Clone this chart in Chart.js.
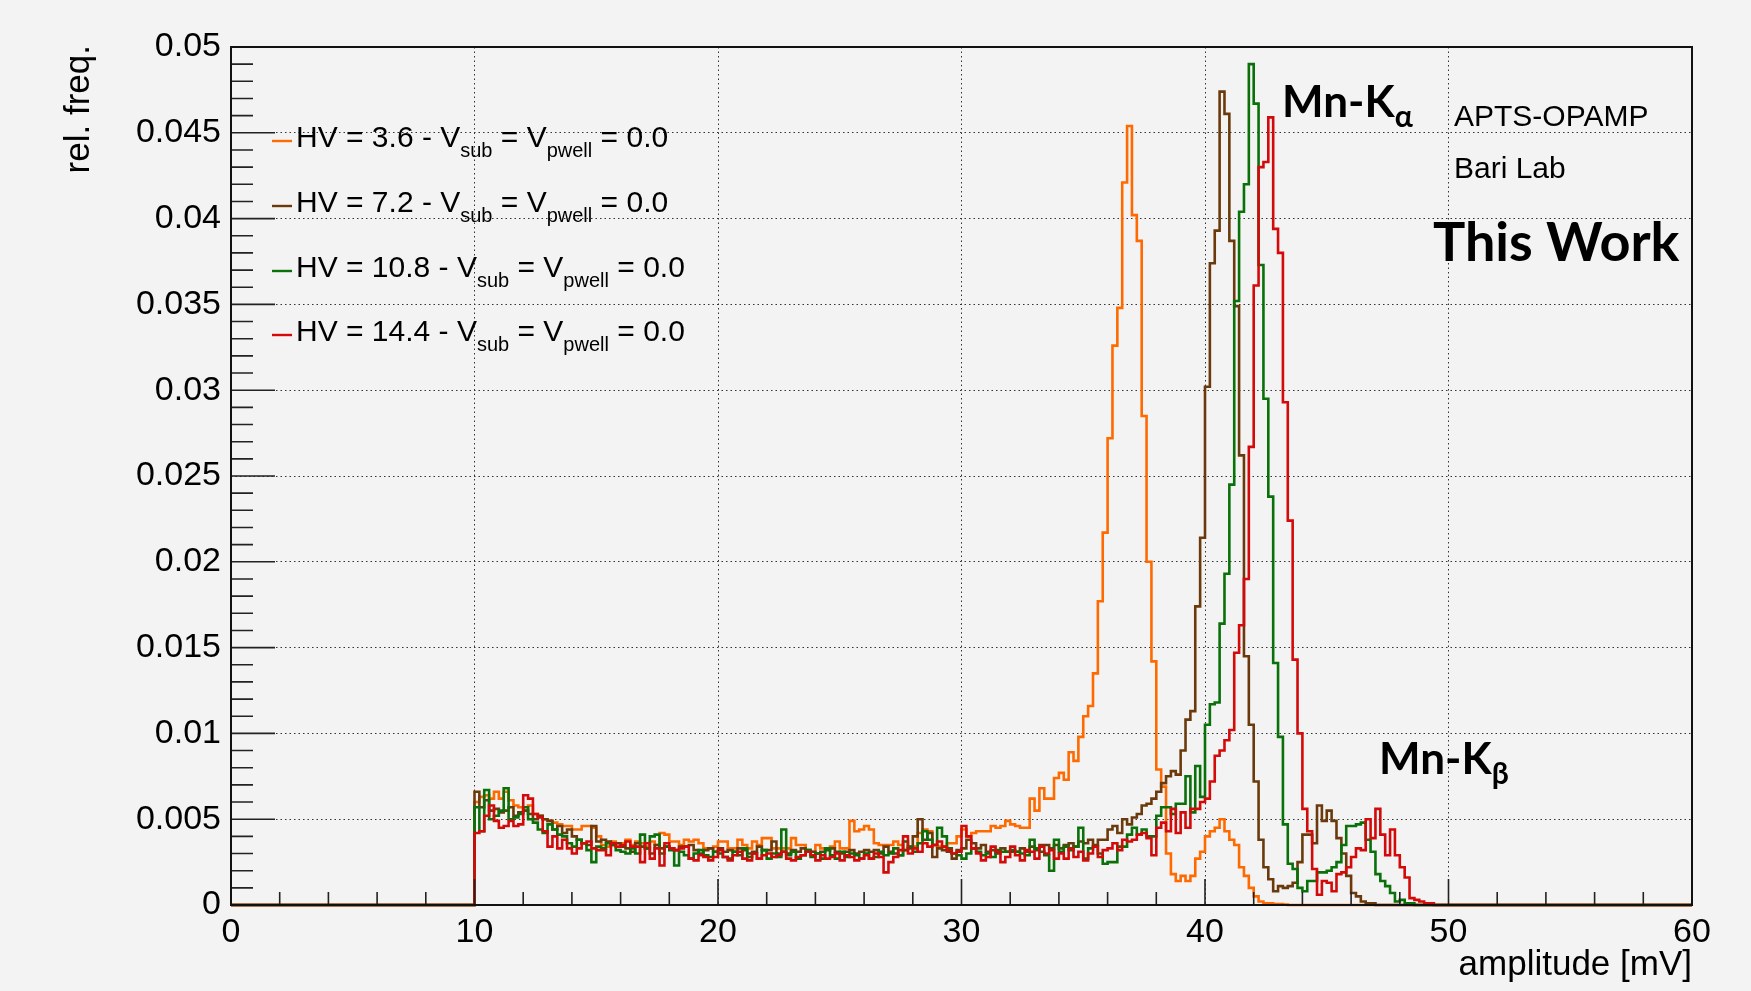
<!DOCTYPE html>
<html>
<head>
<meta charset="utf-8">
<script src="https://cdn.jsdelivr.net/npm/chart.js@4.4.1/dist/chart.umd.min.js"></script>
<style>
  html, body { margin: 0; padding: 0; background: #f3f3f3; }
</style>
</head>
<body>
<canvas id="c" width="1751" height="991"></canvas>
<script>
// histogram bins: 0.2 mV wide, first stored bin starts at 10.0 mV (below that everything is 0)
const binLow = 10.0;
const binWidth = 0.2;

// rel. freq. per bin, in units of 1e-4, one row = 2 mV (10 bins)
const orange = [
  60, 63, 64, 62, 66, 62, 66, 61, 58, 57,   // 10
  55, 58, 53, 52, 50, 49, 48, 47, 46, 46,   // 12
  44, 44, 46, 46, 45, 40, 35, 34, 37, 36,   // 14
  36, 38, 35, 37, 36, 34, 37, 35, 42, 41,   // 16
  37, 37, 35, 38, 37, 38, 36, 33, 33, 34,   // 18
  37, 37, 33, 33, 38, 35, 33, 37, 35, 39,   // 20
  39, 33, 33, 33, 33, 39, 35, 35, 31, 31,   // 22
  35, 33, 33, 34, 37, 33, 33, 49, 43, 44,   // 24
  46, 44, 36, 35, 35, 35, 37, 35, 32, 34,   // 26
  34, 42, 44, 43, 35, 34, 34, 36, 36, 40,   // 28
  44, 40, 42, 43, 43, 43, 46, 45, 46, 49,   // 30
  47, 46, 45, 45, 62, 55, 68, 62, 62, 74,   // 32
  77, 73, 89, 84, 98, 110, 116, 135, 177, 217,   // 34
  272, 326, 348, 421, 454, 402, 387, 285, 200, 142,   // 36
  79, 69, 30, 18, 14, 17, 14, 17, 27, 31,   // 38
  40, 43, 45, 50, 43, 38, 35, 22, 17, 10,   // 40
  5, 2, 1, 1, 0.5, 0.5, 0.3, 0, 0, 0,   // 42
  0, 0, 0, 0, 0, 0, 0, 0, 0, 0,   // 44
  0, 0, 0, 0, 0, 0, 0, 0, 0, 0,   // 46
  0, 0, 0, 0, 0, 0, 0, 0, 0, 0    // 48
];

const brown = [
  66, 57, 61, 55, 56, 54, 55, 57, 52, 54,
  55, 53, 50, 52, 50, 49, 44, 46, 42, 44,
  40, 38, 36, 35, 46, 37, 38, 37, 35, 36,
  34, 33, 31, 36, 34, 33, 30, 35, 33, 34,
  33, 32, 34, 34, 35, 32, 30, 32, 33, 31,
  33, 31, 32, 31, 33, 32, 30, 31, 34, 32,
  32, 37, 30, 31, 30, 32, 31, 33, 32, 31,
  30, 31, 32, 33, 31, 30, 31, 32, 30, 31,
  32, 31, 32, 30, 34, 31, 30, 29, 32, 33,
  40, 50, 38, 42, 28, 33, 32, 31, 27, 32,
  33, 38, 36, 33, 35, 31, 32, 30, 33, 31,
  31, 31, 33, 31, 34, 32, 35, 35, 33, 35,
  33, 35, 36, 34, 37, 36, 38, 35, 38, 38,
  44, 46, 42, 50, 47, 51, 53, 58, 59, 62,
  66, 71, 75, 78, 76, 90, 108, 113, 174, 214,
  302, 374, 393, 474, 461, 387, 349, 262, 145, 105,
  72, 38, 22, 15, 8, 11, 10, 11, 13, 25,
  41, 41, 36, 58, 49, 55, 49, 39, 30, 17,
  7, 5, 2, 1, 1, 0, 0, 0, 0, 0,
  0, 0, 0, 0, 0, 0, 0, 0, 0, 0
];

const green = [
  57, 43, 67, 50, 52, 55, 68, 50, 51, 53,
  57, 50, 48, 44, 42, 47, 44, 41, 40, 36,
  34, 38, 36, 32, 25, 34, 33, 36, 35, 32,
  31, 30, 33, 30, 41, 33, 40, 41, 30, 34,
  32, 23, 31, 29, 27, 30, 32, 29, 28, 31,
  30, 28, 27, 31, 29, 33, 28, 30, 27, 32,
  27, 30, 28, 44, 29, 31, 27, 29, 32, 28,
  30, 27, 33, 29, 27, 31, 28, 30, 29, 27,
  30, 27, 28, 31, 29, 30, 33, 29, 37, 34,
  31, 36, 43, 38, 35, 45, 40, 33, 30, 29,
  27, 30, 33, 31, 29, 30, 28, 32, 31, 31,
  32, 31, 30, 29, 38, 33, 31, 29, 20, 38,
  31, 34, 32, 34, 45, 27, 33, 34, 30, 24,
  25, 25, 34, 34, 41, 45, 41, 44, 40, 40,
  52, 57, 57, 53, 59, 59, 75, 54, 81, 63,
  105, 117, 118, 164, 193, 245, 352, 404, 420, 490,
  467, 373, 295, 238, 141, 98, 47, 24, 21, 10,
  8, 14, 14, 19, 19, 20, 22, 25, 35, 46,
  46, 47, 48, 38, 31, 18, 14, 11, 7, 2,
  3, 1, 1, 0, 0, 0, 0, 0, 0, 0
];

const red = [
  42, 43, 52, 58, 49, 45, 46, 49, 46, 47,
  64, 62, 53, 51, 43, 34, 40, 33, 38, 33,
  30, 33, 36, 37, 33, 32, 32, 29, 36, 34,
  35, 37, 34, 34, 25, 36, 27, 33, 23, 36,
  33, 32, 33, 34, 27, 26, 29, 28, 26, 28,
  32, 28, 26, 29, 31, 27, 26, 30, 27, 29,
  30, 28, 29, 31, 27, 26, 28, 29, 31, 29,
  26, 29, 27, 28, 30, 26, 29, 28, 26, 27,
  29, 27, 30, 28, 19, 25, 28, 32, 40, 30,
  33, 31, 36, 34, 35, 37, 34, 32, 30, 31,
  46, 40, 33, 30, 26, 28, 34, 31, 25, 28,
  34, 29, 26, 32, 31, 27, 34, 30, 32, 27,
  30, 27, 33, 28, 31, 26, 30, 34, 28, 32,
  33, 36, 32, 38, 37, 38, 41, 42, 39, 29,
  45, 48, 43, 56, 42, 54, 45, 56, 56, 60,
  62, 72, 87, 90, 96, 102, 147, 163, 190, 267,
  361, 430, 433, 459, 394, 380, 293, 224, 143, 100,
  56, 43, 21, 6, 14, 13, 8, 18, 19, 22,
  28, 33, 32, 50, 39, 56, 41, 29, 44, 29,
  22, 16, 4, 3, 2, 1, 1, 0, 0, 0
];

const hvValues = ['3.6', '7.2', '10.8', '14.4'];
const seriesColors = ['#ff6a00', '#6b3a0c', '#0a700a', '#d40a0a'];

const xTicks = [0, 10, 20, 30, 40, 50, 60];
const yTicks = [0, 0.005, 0.01, 0.015, 0.02, 0.025, 0.03, 0.035, 0.04, 0.045, 0.05];

// points at the low edge of every bin, drawn as a step outline
function histPoints(vals) {
    const pts = [{ x: 0, y: 0 }];
    vals.forEach((v, i) => {
        pts.push({ x: Math.round((binLow + i * binWidth) * 10) / 10, y: v * 1e-4 });
    });
    pts.push({ x: Math.round((binLow + vals.length * binWidth) * 10) / 10, y: 0 });
    pts.push({ x: 60, y: 0 });
    return pts;
}

const TICK_FONT = { family: "'Liberation Sans', Arial, sans-serif", size: 34 };

// frame + inside tick marks, like the ROOT pad
const frameTicks = {
    id: 'frameTicks',
    beforeDraw(chart) {
        const { ctx } = chart;
        ctx.save();
        ctx.fillStyle = '#f3f3f3';
        ctx.fillRect(0, 0, chart.width, chart.height);
        ctx.restore();
    },
    afterDatasetsDraw(chart) {
        const { ctx, chartArea: a, scales: { x, y } } = chart;
        ctx.save();
        ctx.strokeStyle = '#222';
        ctx.lineWidth = 1.6;
        ctx.beginPath();
        for (let k = 0; k <= 30; k++) {
            const px = x.getPixelForValue(k * 2);
            const len = k % 5 === 0 ? 26 : 13;
            ctx.moveTo(px, a.bottom);
            ctx.lineTo(px, a.bottom - len);
        }
        for (let k = 0; k <= 50; k++) {
            const py = y.getPixelForValue(k * 0.001);
            const len = k % 5 === 0 ? 44 : 22;
            ctx.moveTo(a.left, py);
            ctx.lineTo(a.left + len, py);
        }
        ctx.stroke();
        ctx.lineWidth = 2;
        ctx.strokeStyle = '#111';
        ctx.strokeRect(a.left, a.top, a.right - a.left, a.bottom - a.top);
        ctx.restore();
    }
};

// text with subscripts: parts = [[text, isSub], ...]
function drawRich(ctx, parts, x, y, font, subFont, subDrop) {
    let cx = x;
    parts.forEach(([t, sub]) => {
        ctx.font = sub ? subFont : font;
        ctx.fillText(t, cx, sub ? y + subDrop : y);
        cx += ctx.measureText(t).width;
    });
}

const annotations = {
    id: 'annotations',
    afterDraw(chart) {
        const { ctx } = chart;
        ctx.save();
        ctx.fillStyle = '#000';
        ctx.textBaseline = 'alphabetic';
        ctx.textAlign = 'left';

        // legend
        const rowBase = [147, 212, 277, 341];
        hvValues.forEach((hv, i) => {
            const yb = rowBase[i];
            ctx.strokeStyle = seriesColors[i];
            ctx.lineWidth = 2.4;
            ctx.beginPath();
            ctx.moveTo(272, yb - 6);
            ctx.lineTo(292, yb - 6);
            ctx.stroke();
            ctx.fillStyle = '#000';
            drawRich(ctx, [
                ['HV = ' + hv + ' - V', false], ['sub', true],
                [' = V', false], ['pwell', true], [' = 0.0', false]
            ], 296, yb, "30px 'Liberation Sans', Arial, sans-serif",
               "20px 'Liberation Sans', Arial, sans-serif", 10);
        });

        // peak labels
        drawRich(ctx, [['Mn-K', false], ['α', true]], 1282, 117,
            "bold 44px Lato, 'Open Sans', sans-serif", "bold 30px Lato, 'Open Sans', sans-serif", 10);
        drawRich(ctx, [['Mn-K', false], ['β', true]], 1379, 774,
            "bold 44px Lato, 'Open Sans', sans-serif", "bold 30px Lato, 'Open Sans', sans-serif", 10);

        ctx.font = "30px 'Liberation Sans', Arial, sans-serif";
        ctx.fillText('APTS-OPAMP', 1454, 126);
        ctx.fillText('Bari Lab', 1454, 178);
        ctx.font = "bold 54px Lato, 'Open Sans', sans-serif";
        ctx.fillText('This Work', 1433, 261);

        // axis titles
        ctx.font = "35px 'Liberation Sans', Arial, sans-serif";
        ctx.textAlign = 'right';
        ctx.fillText('amplitude [mV]', 1692, 975);
        ctx.save();
        ctx.translate(89, 45);
        ctx.rotate(-Math.PI / 2);
        ctx.fillText('rel. freq.', 0, 0);
        ctx.restore();
        ctx.restore();
    }
};

const datasets = [orange, brown, green, red].map((vals, i) => ({
    label: 'HV = ' + hvValues[i],
    data: histPoints(vals),
    borderColor: seriesColors[i],
    borderWidth: 2.6,
    stepped: true,
    pointRadius: 0,
    fill: false,
    order: 4 - i,
    clip: 6
}));

new Chart(document.getElementById('c'), {
    type: 'line',
    data: { datasets: datasets },
    options: {
        responsive: false,
        animation: false,
        devicePixelRatio: 1,
        layout: { padding: { top: 47, right: 59, left: 0, bottom: 0 } },
        plugins: { legend: { display: false }, tooltip: { enabled: false } },
        scales: {
            x: {
                type: 'linear', min: 0, max: 60,
                afterFit: (s) => { s.height = 86; },
                afterBuildTicks: (s) => { s.ticks = xTicks.map(v => ({ value: v })); },
                ticks: { color: '#000', font: TICK_FONT, padding: 7, maxRotation: 0, autoSkip: false },
                grid: { color: '#333', lineWidth: 1, drawTicks: false },
                border: { display: false, dash: [1.5, 3] }
            },
            y: {
                type: 'linear', min: 0, max: 0.05,
                afterFit: (s) => { s.width = 231; },
                afterBuildTicks: (s) => { s.ticks = yTicks.map(v => ({ value: v })); },
                ticks: {
                    color: '#000', font: TICK_FONT, padding: 10, autoSkip: false,
                    callback: (v) => String(+(+v).toFixed(3))
                },
                grid: { color: '#333', lineWidth: 1, drawTicks: false },
                border: { display: false, dash: [1.5, 3] }
            }
        }
    },
    plugins: [frameTicks, annotations]
});
</script>
</body>
</html>
